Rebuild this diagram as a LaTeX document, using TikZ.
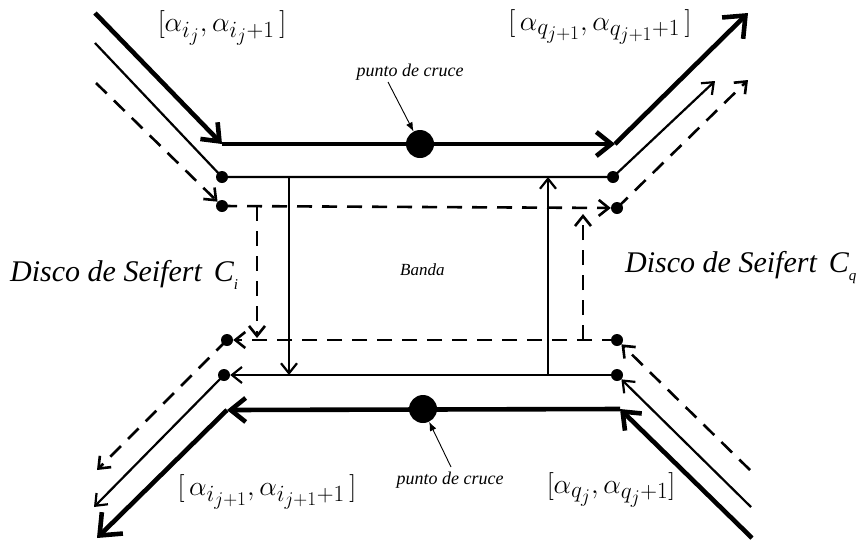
\documentclass[tikz,border=0pt]{standalone}
\usepackage{fontspec}
\usepackage{graphicx}
\setmainfont{Liberation Serif}
\usetikzlibrary{arrows.meta}
\newcommand{\bigmath}[1]{\scalebox{1.12}{\fontsize{24.88}{28}\selectfont #1}}
\newcommand{\subit}[1]{\raisebox{-0.28em}{\fontsize{15}{15}\selectfont\itshape #1}}
\begin{document}
\begin{tikzpicture}[x=1pt,y=-1pt,
  thickln/.style={line width=4.6pt},
  thinln/.style={line width=2.2pt},
  dashln/.style={line width=2.6pt, dash pattern=on 15pt off 10pt},
  bigtip/.style={-{Straight Barb[length=15pt,width=24pt]}},
  endtip/.style={-{Straight Barb[length=18pt,width=30pt]}},
  smalltip/.style={-{Straight Barb[length=10pt,width=16pt]}},
  ptr/.style={line width=0.9pt,-{Latex[length=9pt,width=7pt]}},
  dot/.style={circle,fill=black,inner sep=0pt,minimum size=12pt},
  bigdot/.style={circle,fill=black,inner sep=0pt,minimum size=28pt},
  disco/.style={font=\fontsize{30}{32}\selectfont\itshape,inner sep=0pt,anchor=base west},
  small/.style={font=\fontsize{18}{20}\selectfont\itshape,inner sep=0pt},
  brk/.style={inner sep=0pt}
]
\useasboundingbox (0,0) rectangle (856,542);

% coordinates
\coordinate (a1) at (95,13);
\coordinate (a2) at (222,144);
\coordinate (a3) at (615,144);
\coordinate (a4) at (748,13);
\coordinate (b1) at (95,43);
\coordinate (b4) at (715,81);
\coordinate (c1) at (96,83);
\coordinate (c4) at (748,80);
\coordinate (vL1) at (289,177);
\coordinate (vL2) at (289,375);
\coordinate (vR1) at (548,375);
\coordinate (vR2) at (548,177);
\coordinate (wL1) at (257,206);
\coordinate (wL2) at (257,338);
\coordinate (wR1) at (583,340);
\coordinate (wR2) at (583,214);
\coordinate (f1) at (97,470);
\coordinate (f4) at (750,470);
\coordinate (g1) at (94,507);
\coordinate (g4) at (751,507);
\coordinate (e1) at (752,538);
\coordinate (e2) at (620,409);
\coordinate (e3) at (227,410);
\coordinate (e4) at (97,538);
\coordinate (p1) at (388,82);
\coordinate (p2) at (451,467);

% dots
\node[dot] (dTLs) at (222,177) {};
\node[dot] (dTRs) at (613,177) {};
\node[dot] (dTLd) at (222,206) {};
\node[dot] (dTRd) at (617,208) {};
\node[dot] (dBLd) at (227,340) {};
\node[dot] (dBRd) at (617,340) {};
\node[dot] (dBLs) at (224,375) {};
\node[dot] (dBRs) at (617,375) {};
\node[bigdot] (X1) at (420,144) {};
\node[bigdot] (X2) at (423,409) {};

% top thick
\draw[thickln,bigtip] (a1) -- (a2);
\draw[thickln,bigtip] (a2) -- (a3);
\draw[thickln,endtip] (a3) -- (a4);
% top thin
\draw[thinln] (b1) -- (dTLs.center) -- (dTRs.center);
\draw[thinln,smalltip] (dTRs.center) -- (b4);
% top dashed
\draw[dashln,smalltip] (c1) -- (dTLd);
\draw[dashln,smalltip] (dTLd.center) -- (dTRd);
\draw[dashln,smalltip] (dTRd.center) -- (c4);

% verticals
\draw[thinln,smalltip] (vL1) -- (vL2);
\draw[thinln,smalltip] (vR1) -- (vR2);
\draw[dashln,smalltip] (wL1) -- (wL2);
\draw[dashln,smalltip] (wR1) -- (wR2);

% bottom dashed
\draw[dashln,smalltip] (f4) -- (dBRd);
\draw[dashln,smalltip] (dBRd.center) -- (dBLd);
\draw[dashln,smalltip] (dBLd.center) -- (f1);
% bottom thin
\draw[thinln,smalltip] (g4) -- (dBRs);
\draw[thinln,smalltip] (dBRs.center) -- (dBLs);
\draw[thinln,smalltip] (dBLs.center) -- (g1);
% bottom thick
\draw[thickln,bigtip] (e1) -- (e2);
\draw[thickln,bigtip] (e2) -- (e3);
\draw[thickln,endtip] (e3) -- (e4);

% labels
\node[brk] (LTL) at (222,28) {\bigmath{$\Bigl[\alpha_{i_j},\alpha_{i_j+1}\,\Bigr]$}};
\node[brk] (LTR) at (600,27) {\bigmath{$\Bigl[\,\alpha_{q_{j+1}},\alpha_{q_{j+1}+1}\,\Bigr]$}};
\node[brk] (LBL) at (267,492) {\bigmath{$\Bigl[\,\alpha_{i_{j+1}},\alpha_{i_{j+1}+1}\,\Bigr]$}};
\node[brk] (LBR) at (611,490) {\bigmath{$\Bigl[\alpha_{q_j},\alpha_{q_j+1}\Bigr]$}};

\node[small] (pc1) at (410,72) {punto de cruce};
\node[small] (pc2) at (450,480) {punto de cruce};
\draw[ptr] (p1) -- (X1);
\draw[ptr] (p2) -- (X2);

\node[disco] (DCi) at (10,281) {Disco de Seifert\hspace{12pt}C\subit{i}};
\node[disco] (DCq) at (625,272) {Disco de Seifert\hspace{12pt}C\subit{q}};
\node[small,anchor=base west,font=\fontsize{17}{20}\selectfont\itshape] (band) at (400,275) {Banda};
\end{tikzpicture}
\end{document}
